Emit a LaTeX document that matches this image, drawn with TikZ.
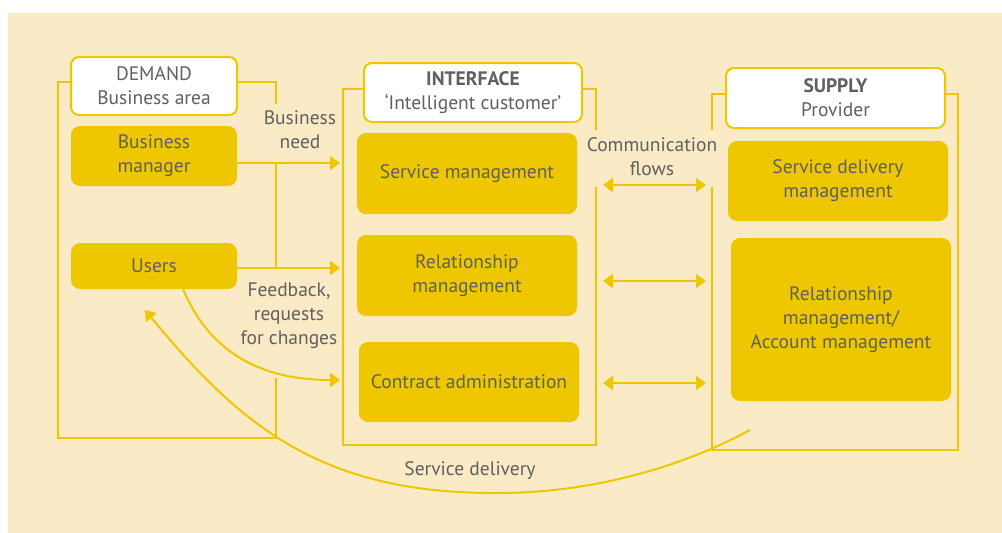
\documentclass[tikz,border=0pt]{standalone}
\usepackage{fontspec}
\setmainfont{PT Sans}
\usetikzlibrary{arrows.meta}
\definecolor{cream}{HTML}{FAEBC6}
\definecolor{ylw}{HTML}{EEC700}
\definecolor{txt}{HTML}{606060}
\tikzset{
  every node/.style={text=txt, font=\fontsize{19.5}{24}\selectfont, align=center, inner sep=0pt},
  frame/.style={draw=ylw, line width=2pt},
  head/.style={draw=ylw, fill=white, line width=2pt, rounded corners=8pt},
  box/.style={fill=ylw, rounded corners=9pt},
  arr/.style={draw=ylw, line width=2pt, -{Triangle[length=10pt,width=14pt]}},
  darr/.style={draw=ylw, line width=2pt, {Triangle[length=10pt,width=14pt]}-{Triangle[length=10pt,width=14pt]}},
}
\begin{document}
\begin{tikzpicture}[x=1pt,y=-1pt]
\useasboundingbox (0,0) rectangle (1002,533);
\fill[cream] (8,13) rectangle (1002,533);

% DEMAND
\node[head, minimum width=166pt, minimum height=58pt] (demand) at (154,86) {DEMAND\\Business area};
\node[box, minimum width=166pt, minimum height=60pt] (bm) at (154,156) {Business\\manager};
\node[box, minimum width=166pt, minimum height=46pt] (users) at (154,266) {Users};

% INTERFACE
\node[head, minimum width=218pt, minimum height=59pt] (iface) at (473,92.5) {\textbf{INTERFACE}\\‘Intelligent customer’};
\node[box, minimum width=220pt, minimum height=81pt] (sm) at (467,173.5) {Service management};
\node[box, minimum width=220pt, minimum height=81pt] (rm) at (467,275.5) {Relationship\\management};
\node[box, minimum width=220pt, minimum height=80pt] (ca) at (469,382) {Contract administration};

% SUPPLY
\node[head, minimum width=219pt, minimum height=60pt] (supply) at (835.5,98) {\textbf{SUPPLY}\\Provider};
\node[box, minimum width=220pt, minimum height=80pt] (sdm) at (838,181) {Service delivery\\management};
\node[box, minimum width=220pt, minimum height=163pt] (ram) at (841,319.5) {Relationship\\management/\\Account management};

% frames
\coordinate (dA) at (276,104);
\coordinate (dB) at (276,378);
\draw[frame] (demand.west |- 0,82) -- (58,82) -- (58,438) -- (276,438) -- (dB);
\draw[frame] (demand.east |- 0,82) -- (276,82) -- (dA);
\draw[frame] (iface.west |- 0,89) -- (343,89) -- (343,445) -- (596,445) -- (596,187);
\draw[frame] (iface.east |- 0,89) -- (596,89) -- (596,130);
\draw[frame] (supply.west |- 0,94) -- (712,94) -- (712,130);
\draw[frame] (712,187) -- (712,450) -- (958,450) -- (958,94) -- (supply.east |- 0,94);

% demand -> interface
\coordinate (t1) at (340,163);
\coordinate (t2) at (340,268);
\coordinate (t3) at (340,380);
\coordinate (j1) at (276,163);
\coordinate (j2) at (276,268);
\draw[arr] (bm.east |- t1) -- (t1);
\draw[arr] (users.east |- t2) -- (t2);
\draw[frame] (j1) -- (j2);
\coordinate (uo) at (183,289);
\draw[arr] (uo) .. controls (212,358) and (268,380) .. (t3);

% communication flows
\foreach \y/\n in {185/a,281/b,383/c}{
  \coordinate (cl\n) at (603,\y);
  \coordinate (cr\n) at (706,\y);
  \draw[darr] (cl\n) -- (cr\n);
}

% service delivery
\coordinate (sd0) at (750,430);
\coordinate (sdm0) at (498,493);
\coordinate (sd1) at (145,310);
\draw[arr] (sd0) .. controls (680,468) and (590,493) .. (sdm0)
  .. controls (320,494) and (240,425) .. (sd1);

% labels
\node (lbn) at (300,130) {Business\\need};
\node (lfb) at (289,316) {Feedback,\\requests\\for changes};
\node (lcf) at (652,157) {Communication\\flows};
\node (lsd) at (470,471) {Service delivery};
\end{tikzpicture}
\end{document}
